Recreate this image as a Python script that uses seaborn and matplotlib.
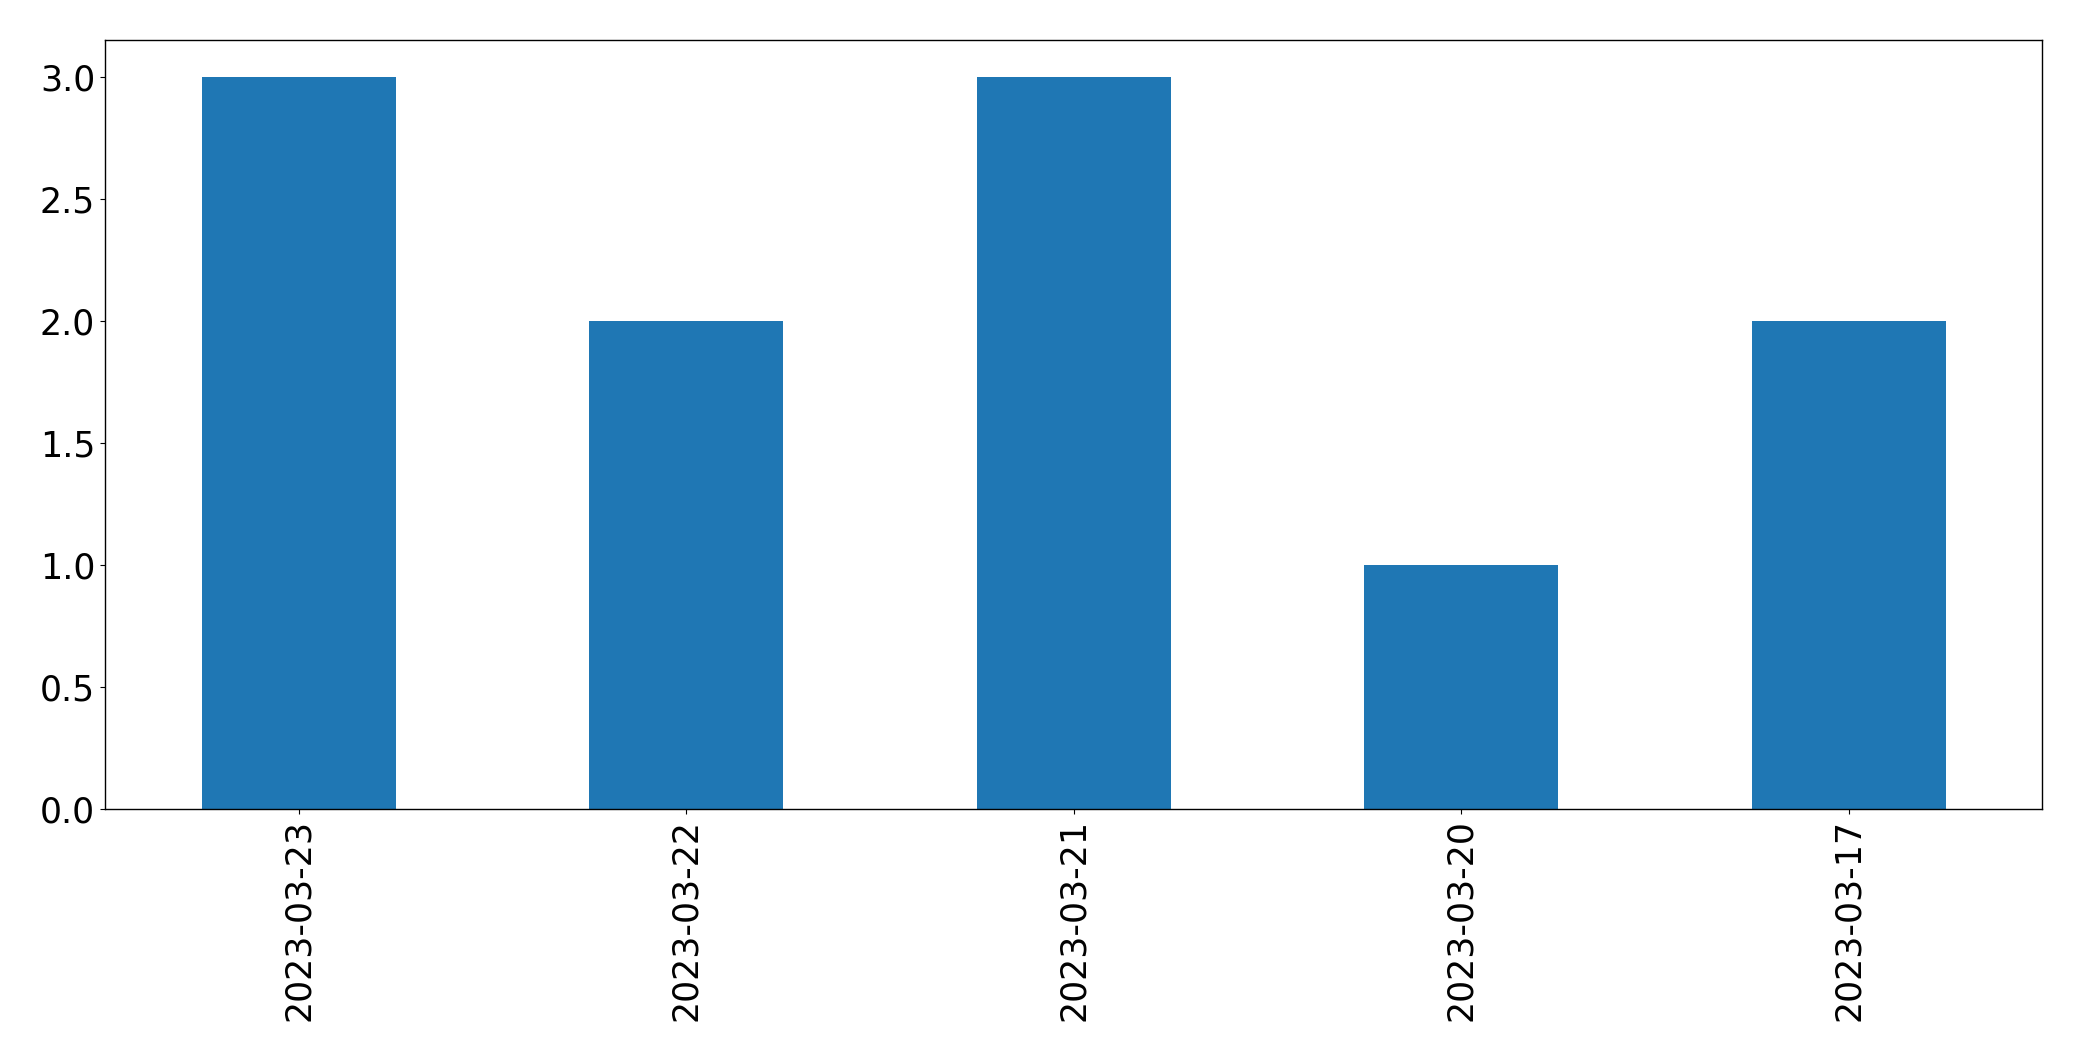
import matplotlib
matplotlib.use("Agg")
import matplotlib.pyplot as plt
import seaborn as sns
import pandas as pd

dates = ["2023-03-23", "2023-03-22", "2023-03-21", "2023-03-20", "2023-03-17"]
counts = [3, 2, 3, 1, 2]

df = pd.DataFrame({"date": dates, "count": counts})

fig = plt.figure(figsize=(20.82, 10.61), dpi=100)
ax = fig.add_axes([0.0504, 0.2375, 0.9306, 0.7245])
sns.barplot(data=df, x="date", y="count", order=dates, color="#1f77b4",
            saturation=1, width=0.5, ax=ax)
ax.set_xlim(-0.5, len(dates) - 0.5)
ax.set_ylim(0, 3.15)
ax.set_xlabel("")
ax.set_ylabel("")
for s in ax.spines.values():
    s.set_color("black")
    s.set_linewidth(1.0)
ax.tick_params(axis="both", labelsize=25, colors="black")
plt.setp(ax.get_xticklabels(), rotation=90)
fig.savefig("out.png", dpi=100)
